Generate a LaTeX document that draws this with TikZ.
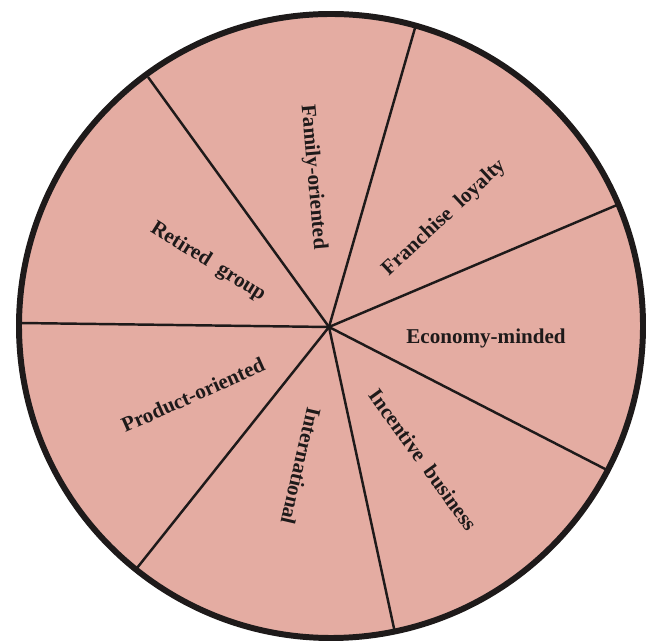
\documentclass[tikz,border=0pt]{standalone}
\usepackage{fontspec}
\setmainfont{Liberation Serif}

\definecolor{piefill}{RGB}{228,172,162}
\definecolor{inkline}{RGB}{30,26,26}

\begin{document}
\begin{tikzpicture}[x=0.02cm, y=0.02cm,
    rim/.style={draw=inkline, line width=3.4pt},
    spoke/.style={draw=inkline, line width=1.4pt},
    segtext/.style={font=\fontsize{12}{14}\selectfont\bfseries, text=inkline, inner sep=1pt}]
    % Page
    \fill[white] (-329,-317) rectangle (322,327);
    \useasboundingbox (-329,-317) rectangle (322,327);

    % Disc
    \coordinate (c) at (0,0);
    \coordinate (m) at (2,1);
    \fill[piefill] (m) circle (312);

    % Rim points
    \coordinate (pw) at (-309,4);
    \coordinate (pnw) at (-181,250);
    \coordinate (pn) at (86,299);
    \coordinate (pne) at (288,122);
    \coordinate (pse) at (278,-143);
    \coordinate (ps) at (66,-306);
    \coordinate (psw) at (-192,-241);

    % Spokes
    \draw[spoke] (c) -- (pw);
    \draw[spoke] (c) -- (pnw);
    \draw[spoke] (c) -- (pn);
    \draw[spoke] (c) -- (pne);
    \draw[spoke] (c) -- (pse);
    \draw[spoke] (c) -- (ps);
    \draw[spoke] (c) -- (psw);
    \draw[rim] (m) circle (312);

    % Labels
    \node (family) [segtext, rotate=-85] at (-16,150) {Family-oriented};
    \node (franchise) [segtext, rotate=43] at (115,109) {Franchise\ \ loyalty};
    \node (retired) [segtext, rotate=-32] at (-121,65) {Retired\ \ group};
    \node (economy) [segtext] at (157,-11) {Economy-minded};
    \node (product) [segtext, rotate=24] at (-136,-68) {Product-oriented};
    \node (intl) [segtext, rotate=-103] at (-28,-139) {International};
    \node (incentive) [segtext, rotate=-54] at (94,-133) {Incentive\ \ business};
\end{tikzpicture}
\end{document}
